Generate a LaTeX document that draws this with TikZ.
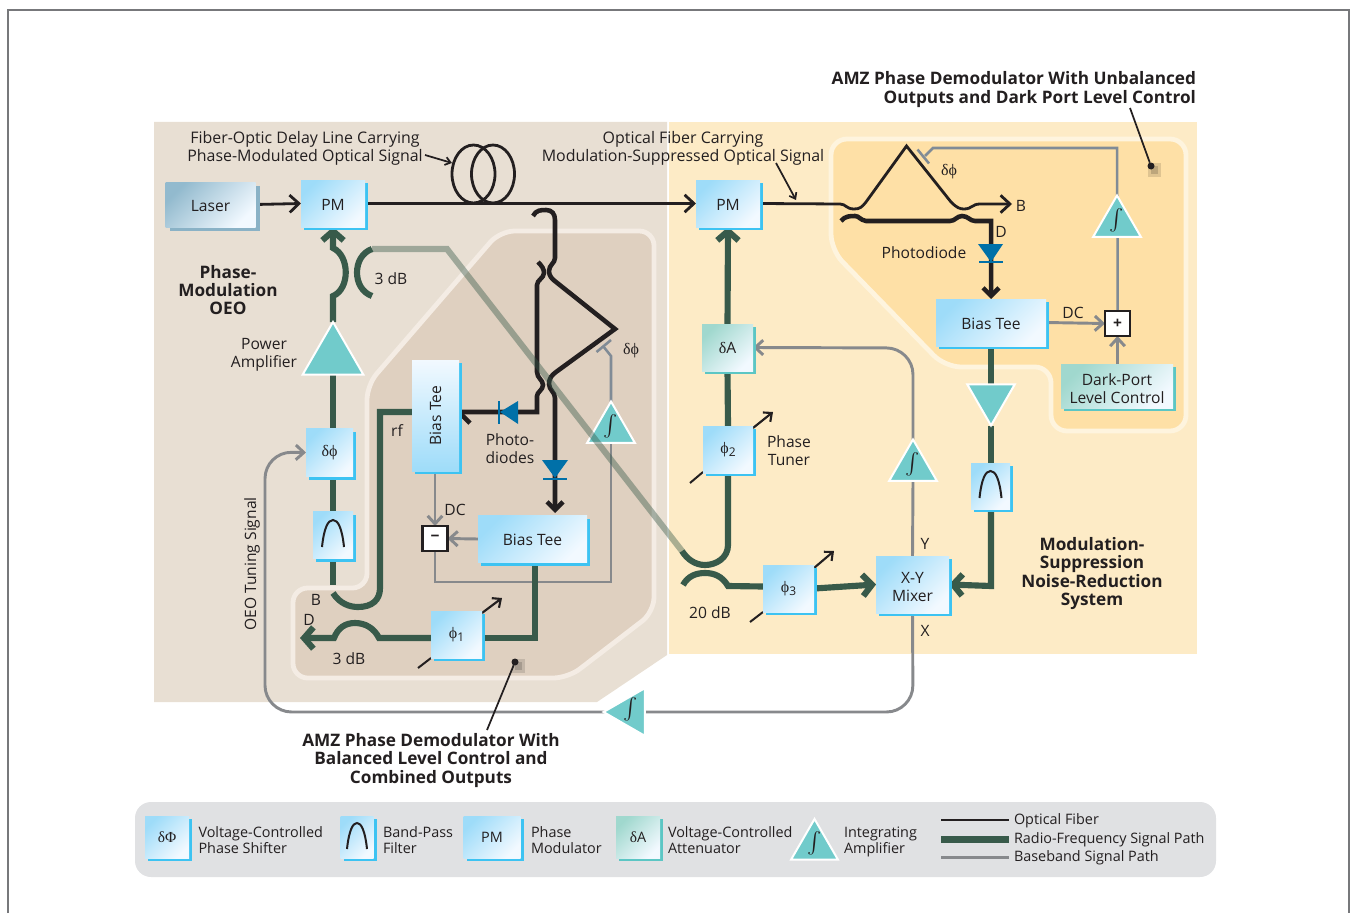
\documentclass[tikz,border=0pt]{standalone}
\usepackage{fontspec}
\setmainfont{Open Sans}
\newfontfamily\symf{Liberation Serif}
\usetikzlibrary{arrows.meta,shapes.geometric,shadows,calc}
\definecolor{ink}{HTML}{231F20}
\definecolor{framec}{HTML}{77787B}
\definecolor{tanbg}{HTML}{E8DFD3}
\definecolor{taninner}{HTML}{DFD0C0}
\definecolor{tanedge}{HTML}{F4ECE4}
\definecolor{yelbg}{HTML}{FDEBC6}
\definecolor{yelinner}{HTML}{FEE0A6}
\definecolor{yeledge}{HTML}{FEF4DE}
\definecolor{rfc}{HTML}{385A4A}
\definecolor{basec}{HTML}{87898C}
\definecolor{tuneb}{HTML}{808B96}
\definecolor{cy}{HTML}{3DC3F2}
\definecolor{bl}{HTML}{9EDCF9}
\definecolor{wh}{HTML}{F2F9FF}
\definecolor{tealt}{HTML}{71CBCB}
\definecolor{tealg}{HTML}{A0D8CE}
\definecolor{teals}{HTML}{5CC6C4}
\definecolor{laserg}{HTML}{92BACE}
\definecolor{lasers}{HTML}{8AB2C6}
\definecolor{diodec}{HTML}{0070A8}
\definecolor{legbg}{HTML}{E0E1E3}
\pgfdeclarelayer{bglayer}
\pgfdeclarelayer{connlayer}
\pgfdeclarelayer{toplayer}
\pgfsetlayers{bglayer,connlayer,main,toplayer}
\def\pxu{0.75pt}
\newcommand{\fsn}{\fontsize{11.7}{13.5}\selectfont}
\newcommand{\fst}{\fontsize{11.95}{13.5}\selectfont}
\newcommand{\fsb}{\fontsize{12.9}{13.7}\selectfont\bfseries}
\newcommand{\fsl}{\fontsize{10.8}{12}\selectfont}
\newcommand{\dphi}{{\symf\fontsize{12}{13}\selectfont δϕ}}
\newcommand{\phin}[1]{{\symf\fontsize{12}{13}\selectfont ϕ\raisebox{-2pt}{\fontspec{Open Sans}\fontsize{9}{9}\selectfont #1}}}
\newcommand{\intg}{\smash{\makebox[0pt]{\raisebox{-2pt}{\scalebox{1.6}{$\int$}}}}}
\newcommand{\lowa}[1]{\raisebox{-1pt}[1\height][1\depth]{#1}}
\newcommand{\lowb}[1]{\raisebox{-1.7pt}[1\height][1\depth]{#1}}
\tikzset{
  x=0.75pt,y=-0.75pt,
  bx/.style 2 args={minimum width=#1*\pxu,minimum height=#2*\pxu,inner sep=0pt,outer sep=0pt,font=\fsn,text=ink,align=center},
  bluebox/.style 2 args={bx={#1}{#2},top color=bl,bottom color=wh,shading angle=45,
     general shadow={fill=cy,shadow xshift=2.4pt,shadow yshift=-2.4pt}},
  tealbox/.style 2 args={bx={#1}{#2},top color=tealg,bottom color=wh,shading angle=45,
     general shadow={fill=teals,shadow xshift=2.4pt,shadow yshift=-2.4pt}},
  opbox/.style={bx={25}{25},fill=white,draw=ink,line width=1.7pt,font=\bfseries\fsn},
  tri/.style={regular polygon,regular polygon sides=3,minimum size=#1*\pxu,inner sep=0pt,outer sep=0pt,fill=tealt,draw=white,line width=1.5pt,text=ink},
  lbl/.style={inner sep=0pt,outer sep=0pt,font=\fsn,text=ink,align=center},
  blbl/.style={inner sep=0pt,outer sep=0pt,font=\fsb,text=ink,align=center},
  leg/.style={inner sep=0pt,outer sep=0pt,font=\fsl,text=ink,align=left,anchor=west},
  fib/.style={draw=ink,line width=2.1pt},
  fibthick/.style={draw=ink,line width=3.4pt},
  rf/.style={draw=rfc,line width=4.6pt},
  gry/.style={draw=basec,line width=2.2pt},
  gtun/.style={draw=tuneb,line width=1.9pt},
  tipk/.style={-{Straight Barb[length=7pt,width=13pt]}},
  tipt/.style={-{Straight Barb[length=6pt,width=12pt]}},
  tipr/.style={-{Straight Barb[length=7pt,width=16pt]}},
  tipg/.style={-{Straight Barb[length=6pt,width=11pt]}},
  thin1/.style={draw=ink,line width=1.3pt},
  adj/.style={draw=ink,line width=1.6pt,-{Straight Barb[length=5pt,width=9pt]}},
  dotn/.style={circle,fill=ink,minimum size=7*\pxu,inner sep=0pt,outer sep=0pt},
}
\newcommand{\bell}[1]{\draw[ink,line width=1.5pt,shift={(#1)}] (-11,12) .. controls (-9,-7) and (-5,-15) .. (0,-15) .. controls (5,-15) and (9,-7) .. (11,12);}
\begin{document}
\begin{tikzpicture}
\useasboundingbox (0,0) rectangle (1351,913);

% ---------- nodes ----------
\node[bx={90}{45},top color=laserg,bottom color=wh,shading angle=45,general shadow={fill=lasers,shadow xshift=3pt,shadow yshift=-3pt}] (laser) at (210.5,204.5) {\lowa{Laser}};
\node[bluebox={64}{47}] (pma) at (333,203.5) {\lowa{PM}};
\node[bluebox={64}{47}] (pmb) at (728,203.5) {\lowa{PM}};
\node[tealbox={51}{47}] (da) at (727.5,347.5) {{\symf\fontsize{12}{13}\selectfont δ}A};
\node[bluebox={50}{47}] (phib) at (728,449.5) {\phin{2}};
\node[bluebox={51}{47}] (phic) at (788.5,588.5) {\phin{3}};
\node[bluebox={73}{57}] (mixer) at (912.5,584.5) {\lowb{X-Y}\\\lowb{Mixer}};
\node[bluebox={39}{46}] (fr) at (990.5,486) {};
\bell{fr}
\node[bluebox={110}{47}] (btr) at (991,322.5) {\lowa{Bias Tee}};
\node[tealbox={112}{44}] (dark) at (1117,386) {\lowb{Dark-Port}\\\lowb{Level Control}};
\node[opbox] (plus) at (1117.5,323.5) {+};
\node[bx={47}{111},top color=wh,bottom color=bl,shading angle=0,general shadow={fill=cy,shadow xshift=2.4pt,shadow yshift=-2.4pt}] (btl) at (435.5,415.5) {\rotatebox{90}{Bias Tee}};
\node[bluebox={109}{47}] (btb) at (532.5,539) {\lowa{Bias Tee}};
\node[opbox] (minus) at (435,538.5) {−};
\node[bluebox={47}{48}] (dpa) at (329.5,452.5) {\dphi};
\node[bluebox={40}{47}] (fl) at (333,535) {};
\bell{fl}
\node[bluebox={51}{47}] (phia) at (456.5,634.5) {\phin{1}};
\node[tri=70] (amp) at (333,357) {};
\node[tri=55] (intr) at (1117,223) {\intg};
\node[tri=55] (intm) at (913,467) {\intg};
\node[tri=55] (intl) at (611,429) {\intg};
\node[tri=55,shape border rotate=90] (intb) at (631,712) {\intg};
\node[tri=55,shape border rotate=180] (dn) at (991,398) {};

% ---------- labels ----------
\node[lbl,font=\fst] (t1) at (305,148.5) {Fiber-Optic Delay Line Carrying\\Phase-Modulated Optical Signal};
\node[lbl,font=\fst] (t2) at (683,148.5) {Optical Fiber Carrying\\Modulation-Suppressed Optical Signal};
\node[blbl,anchor=east,align=right] (t3) at (1196,89.5) {AMZ Phase Demodulator With Unbalanced\\Outputs and Dark Port Level Control};
\node[blbl] (t4) at (228,290) {Phase-\\Modulation\\OEO};
\node[lbl] (t5) at (264,355) {Power\\Amplifier};
\node[lbl] (t6) at (391,278.5) {3 dB};
\node[lbl] (t7) at (397,431) {rf};
\node[lbl] (t8) at (510,449) {Photo-\\diodes};
\node[lbl] (t9) at (631,351) {\dphi};
\node[lbl] (t10) at (455,510) {DC};
\node[lbl] (t11) at (316,600) {B};
\node[lbl] (t12) at (309,620) {D};
\node[lbl] (t13) at (349,659) {3 dB};
\node[lbl,rotate=90] (t14) at (252,564) {OEO Tuning Signal};
\node[blbl] (t15) at (431,760.5) {AMZ Phase Demodulator With\\Balanced Level Control and\\Combined Outputs};
\node[lbl] (t16) at (789,451) {Phase\\Tuner};
\node[lbl] (t17) at (710,613) {20 dB};
\node[lbl] (t18) at (925,544) {Y};
\node[lbl] (t19) at (925,631) {X};
\node[blbl] (t20) at (1092,573.5) {Modulation-\\Suppression\\Noise-Reduction\\System};
\node[lbl] (t21) at (949,172) {\dphi};
\node[lbl] (t22) at (1021,205.5) {B};
\node[lbl] (t23) at (1001,232) {D};
\node[lbl] (t24) at (924,252.5) {Photodiode};
\node[lbl] (t25) at (1073,312.5) {DC};
\node[dotn] (dota) at (1151,166) {};
\node[dotn] (dotb) at (515,662) {};

% ---------- legend nodes ----------
\node[bluebox={44}{42}] (la) at (167,837) {{\symf\fontsize{11.5}{13}\selectfont δΦ}};
\node[leg] (lta) at (198.5,840) {Voltage-Controlled\\Phase Shifter};
\node[bluebox={33}{42}] (lb) at (357,837) {};
\draw[ink,line width=1.5pt,shift={(lb)}] (-10,12) .. controls (-8,-7) and (-4,-14) .. (0,-14) .. controls (4,-14) and (8,-7) .. (10,12);
\node[leg] (ltb) at (383,840) {Band-Pass\\Filter};
\node[bluebox={57}{42}] (lc) at (492,837) {\fsl PM};
\node[leg] (ltc) at (531,840) {Phase\\Modulator};
\node[tealbox={44}{42}] (ld) at (638,837) {{\symf\fontsize{11.5}{13}\selectfont δ}\fsl A};
\node[leg] (ltd) at (668,840) {Voltage-Controlled\\Attenuator};
\node[tri=54] (le) at (814.5,846) {\intg};
\node[leg] (lte) at (844,841.5) {Integrating\\Amplifier};
\coordinate (lf1) at (941,820); \coordinate (lf2) at (1009,820);
\coordinate (lg1) at (941,839.5); \coordinate (lg2) at (1009,839.5);
\coordinate (lh1) at (941,857.5); \coordinate (lh2) at (1009,857.5);
\node[leg] (ltf) at (1014,820.5) {Optical Fiber};
\node[leg] (ltg) at (1014,840) {Radio-Frequency Signal Path};
\node[leg] (lth) at (1014,858) {Baseband Signal Path};

% ---------- backgrounds ----------
\begin{pgfonlayer}{bglayer}
\draw[framec,line width=1.1pt] (8,913) -- (8,10) -- (1349,10) -- (1349,913);
\fill[tanbg] (154,122) -- (667,122) -- (667,655) -- (597,702) -- (154,702) -- cycle;
\fill[yelbg] (669,122) -- (1197,122) -- (1197,654) -- (669,654) -- cycle;
\path[fill=taninner,draw=tanedge,line width=3.6pt,rounded corners=11pt] (500,231) -- (654,231) -- (654,612) -- (568,678) -- (293,678) -- (293,588) -- (367,588) -- (367,385) -- cycle;
\path[fill=yelinner,draw=yeledge,line width=3.6pt,rounded corners=12pt] (831,139) -- (1186,139) -- (1186,431) -- (1051,431) -- (1051,367) -- (945,367) -- (831,250) -- cycle;
\fill[legbg,rounded corners=12pt] (135,802) rectangle (1216,877);
\end{pgfonlayer}

% ---------- connectors ----------
\begin{pgfonlayer}{connlayer}
% optical left
\draw[fib,tipk] (laser.east) -- (pma.west);
\draw[fib,tipk] (pma.east) -- (pmb.west);
\draw[fib] (473.5,174) ellipse [x radius=21.5,y radius=29];
\draw[fib] (493,174) ellipse [x radius=21.5,y radius=29];
\coordinate (ta1) at (425,155); \coordinate (ta2) at (452,163);
\draw[thin1,-{Straight Barb[length=4pt,width=6pt]}] (ta1) -- (ta2);
\coordinate (oa) at (776,163); \coordinate (ob) at (796,200);
\draw[thin1,-{Straight Barb[length=4pt,width=6pt]}] (oa) -- (ob);
% right AMZ
\coordinate (ra) at (1012,204);
\draw[fib,tipk] (pmb.east) -- (840,204) .. controls (846,204) and (846,209) .. (854,209) .. controls (860,209) and (862,207) .. (866,202) -- (906.5,146) -- (951,202) .. controls (957,208) and (960,209) .. (964,209) .. controls (972,209) and (972,204) .. (980,204) -- (ra);
\coordinate (rb) at (841,221);
\draw[fibthick,tipt] (rb) .. controls (845,216) and (850,216) .. (855,216) .. controls (859,216) and (860,220) .. (866,221) -- (950,221) .. controls (955,221) and (957,216) .. (962,216) .. controls (968,216) and (970,221) .. (975,221) -- (991,221) -- (btr.north);
% left AMZ
\coordinate (ta) at (533,216);
\draw[fibthick] (ta) .. controls (536,210) and (541,210) .. (546,210) .. controls (552,210) and (555,214) .. (555,220) -- (555,258) .. controls (555,263) and (549,265) .. (549,271) .. controls (549,276) and (552,279) .. (556,282) -- (615,329) -- (556,372) .. controls (552,375) and (549,378) .. (549,384) .. controls (549,390) and (555,392) .. (555,398) -- (555,510);
\draw[fibthick,tipt] (555,400) -- (555,513);
\coordinate (tb) at (538,262);
\draw[fibthick,tipt] (tb) .. controls (542,266) and (544,269) .. (544,273) .. controls (544,278) and (537,280) .. (537,285) -- (537,372) .. controls (537,378) and (543,380) .. (543,385) .. controls (543,390) and (537,392) .. (537,396) -- (537,412) -- (btl.east |- 537,412) ++(3,0);
% diodes
\fill[diodec] (978,244) -- (1003,244) -- (991,262) -- cycle;
\draw[diodec,line width=1.8pt] (979,262) -- (1003,262);
\fill[diodec] (518,401) -- (518,424) -- (500,412) -- cycle;
\draw[diodec,line width=1.8pt] (499,401) -- (499,424);
\fill[diodec] (542,460) -- (568,460) -- (555,478) -- cycle;
\draw[diodec,line width=1.8pt] (543,479) -- (567,479);
% baseband right
\draw[gry,tipg] (btr.east) -- (plus.west);
\draw[gry,tipg] (dark.north -| plus.south) -- (plus.south);
\draw[gtun] (plus.north) -- (plus.north |- intr.corner 1) (intr.corner 1) -- (1117,148) -- (933,148) -- (925,156);
\draw[gtun] (917.5,149.5) -- (929,163.5);
\draw[gry,tipg,rounded corners=20pt] (intm.corner 1) -- (913,348) -- (da.east);
\draw[gry] (mixer.north) -- (intm.side 2);
\draw[gry,rounded corners=20pt] (mixer.south) -- (913,712) -- (intb.corner 1);
\draw[gry,tipg,rounded corners=20pt] (intb.corner 1) -- (265,712) -- (265,452) -- (dpa.west);
\draw[gry,tipg] (btl.south -| minus.north) -- (minus.north);
\draw[gry,tipg] (btb.west) -- (minus.east);
\draw[gry] (minus.south) -- (435,582) -- (611,582) -- (intl.side 2);
\draw[gtun] (intl.corner 1) -- (611,356) -- (603,346);
\draw[gtun] (596.5,352) -- (611,340);
% RF right
\draw[rf] (btr.south) -- (dn.side 2);
\draw[rf] (dn.corner 1) -- (fr.north -| dn.corner 1);
\draw[rf,tipr] (fr.south -| dn.corner 1) -- (991,586) -- (mixer.east);
\draw[rf,tipr] (phic.east) -- (mixer.west);
\draw[rf] (phic.west) ++(0,-2) -- (728,586) .. controls (722,576) and (714,573) .. (705,573) .. controls (696,573) and (688,576) .. (683,585);
\draw[rf,tipr] (da.north) -- (pmb.south);
\draw[rf] (phib.north) -- (da.south);
\coordinate (ua) at (682,551);
\draw[rf] (phib.south) -- (728,545) .. controls (728,558) and (716,565) .. (705,565) .. controls (695,565) and (687,559) .. (ua);
% RF left
\coordinate (ca) at (372,249); \coordinate (cb) at (372,296);
\draw[rf] (ca) .. controls (352,256) and (352,289) .. (cb);
\draw[rf,tipr] (amp.corner 1) -- (333,296) .. controls (350,289) and (350,256) .. (333,248) -- (pma.south);
\draw[rf] (amp.side 2) -- (dpa.north -| amp.side 2);
\draw[rf] (dpa.south -| amp.side 2) -- (fl.north);
\coordinate (cc) at (333,593);
\draw[rf] (fl.south) -- (333,585);
\draw[rf] (cc) .. controls (340,604) and (350,607) .. (358,607) .. controls (372,607) and (380,600) .. (380,588) -- (380,412) -- (btl.west |- 380,412);
\draw[rf] (btb.south -| 535,0) -- (535,638) -- (phia.east |- 535,638);
\draw[rf,tipr] (phia.west |- 535,638) -- (379,638) .. controls (374,628) and (365,623) .. (355,623) .. controls (345,623) and (338,628) .. (334,638) -- (300,638);
% adjusters
\coordinate (ad1) at (418,668); \coordinate (ad2) at (431,658);
\coordinate (ae1) at (482,613); \coordinate (ae2) at (502,598);
\coordinate (af1) at (690,483); \coordinate (af2) at (703,472);
\coordinate (ag1) at (753,428); \coordinate (ag2) at (773,412);
\coordinate (ah1) at (750,622); \coordinate (ah2) at (763,612);
\coordinate (ai1) at (814,568); \coordinate (ai2) at (834,551);
\draw[draw=ink,line width=1.5pt] (ad1) -- (ad2);
\draw[adj] (ae1) -- (ae2);
\draw[draw=ink,line width=1.5pt] (af1) -- (af2);
\draw[adj] (ag1) -- (ag2);
\draw[draw=ink,line width=1.5pt] (ah1) -- (ah2);
\draw[adj] (ai1) -- (ai2);
% leaders
\coordinate (lda) at (1130,108);
\coordinate (ldb) at (487,730);
\fill[black,opacity=.12] (1148,163) rectangle (1161,177);
\fill[black,opacity=.15] (1151,166) rectangle (1158,174);
\fill[black,opacity=.12] (512,659) rectangle (525,673);
\fill[black,opacity=.15] (515,662) rectangle (522,670);
\draw[thin1] (lda) -- (dota);
\draw[thin1] (ldb) -- (dotb);
% legend lines
\draw[draw=ink,line width=2.2pt] (lf1) -- (lf2);
\draw[draw=rfc,line width=4.8pt] (lg1) -- (lg2);
\draw[draw=basec,line width=2.2pt] (lh1) -- (lh2);
\end{pgfonlayer}

% translucent long RF line
\begin{pgfonlayer}{toplayer}
\draw[draw=rfc,line width=4.6pt,opacity=.42,line join=miter] (ca) -- (447,249) -- (ua);
\end{pgfonlayer}
\end{tikzpicture}
\end{document}
